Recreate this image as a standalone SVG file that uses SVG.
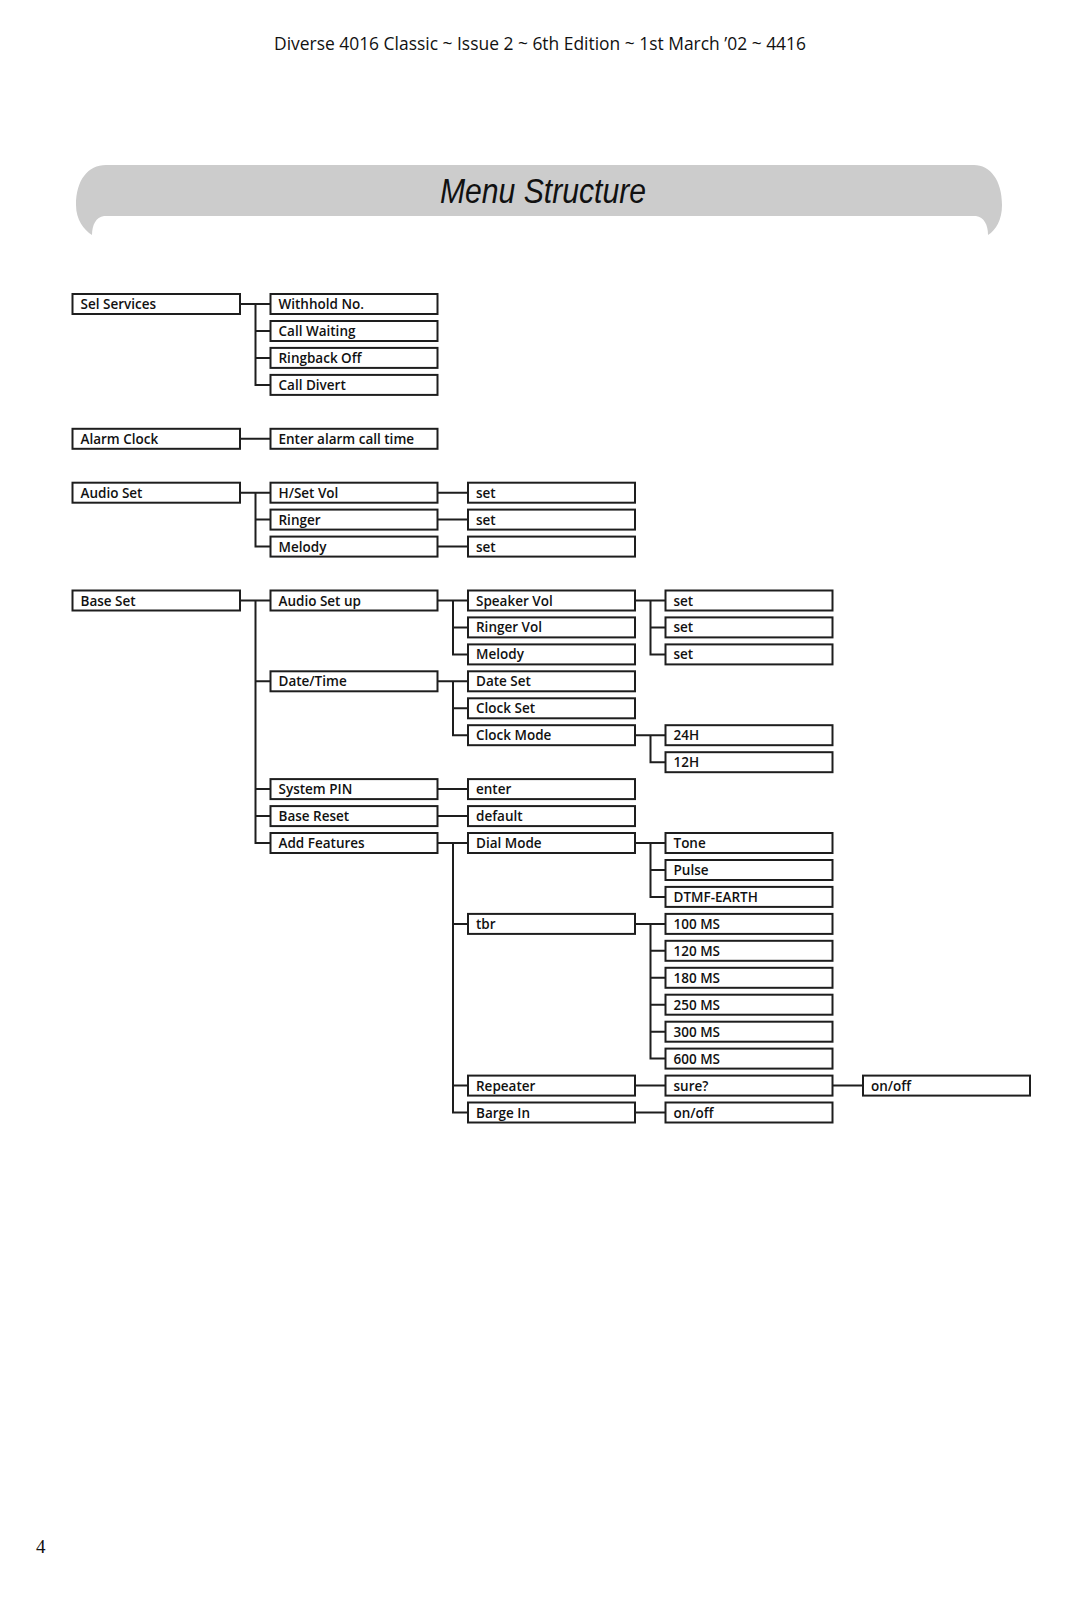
<svg xmlns="http://www.w3.org/2000/svg" width="1080" height="1605" viewBox="0 0 1080 1605">
<style>
.b{fill:#fff;stroke:#1e1e1e;stroke-width:2}
.t{font-family:"Open Sans","Noto Sans","Liberation Sans",sans-serif;font-weight:600;font-size:13.5px;fill:#111}
.c{fill:none;stroke:#1e1e1e;stroke-width:2;stroke-linecap:square}
</style>
<rect width="1080" height="1605" fill="#fff"/>
<text x="540" y="50" text-anchor="middle" textLength="532" lengthAdjust="spacingAndGlyphs" font-family="'Open Sans','Noto Sans',sans-serif" font-size="18" fill="#111">Diverse 4016 Classic ~ Issue 2 ~ 6th Edition ~ 1st March ’02 ~ 4416</text>
<g id="banner">
<path d="M106 165 L974 165 C990 165 1002 180 1002 205 C1002 220 996 230 988 235 C988 225 984 217 976 216 L104 216 C96 217 92 225 92 235 C84 230 76 220 76 205 C76 180 88 165 106 165 Z" fill="#cccccc"/>
<text x="543" y="203" text-anchor="middle" textLength="206" lengthAdjust="spacingAndGlyphs" font-family="'Liberation Sans Narrow','Liberation Sans',Arial,sans-serif" font-style="italic" font-size="35" fill="#111">Menu Structure</text>
</g>
<text x="36" y="1553" font-family="'Liberation Serif','Times New Roman',serif" font-size="19" fill="#111">4</text>

<g id="connectors">
<path class="c" d="M240 304 H270.5 M255.5 304 V384.9 H270.5 M255.5 331 H270.5 M255.5 357.9 H270.5"/>
<path class="c" d="M240 438.8 H270.5"/>
<path class="c" d="M240 492.7 H270.5 M255.5 492.7 V546.6 H270.5 M255.5 519.6 H270.5"/>
<path class="c" d="M437.5 492.7 H468 M437.5 519.6 H468 M437.5 546.6 H468"/>
<path class="c" d="M240 600.5 H270.5 M255.5 600.5 V843 H270.5 M255.5 681.3 H270.5 M255.5 789.1 H270.5 M255.5 816.1 H270.5"/>
<path class="c" d="M437.5 600.5 H468 M453 600.5 V654.4 H468 M453 627.4 H468"/>
<path class="c" d="M635 600.5 H665.5 M650.5 600.5 V654.4 H665.5 M650.5 627.4 H665.5"/>
<path class="c" d="M437.5 681.3 H468 M453 681.3 V735.2 H468 M453 708.3 H468"/>
<path class="c" d="M635 735.2 H665.5 M650.5 735.2 V762.2 H665.5"/>
<path class="c" d="M437.5 789.1 H468 M437.5 816.1 H468"/>
<path class="c" d="M437.5 843 H468 M453 843 V1112.5 H468 M453 923.9 H468 M453 1085.6 H468"/>
<path class="c" d="M635 843 H665.5 M650.5 843 V896.9 H665.5 M650.5 870 H665.5"/>
<path class="c" d="M635 923.9 H665.5 M650.5 923.9 V1058.6 H665.5 M650.5 950.8 H665.5 M650.5 977.8 H665.5 M650.5 1004.7 H665.5 M650.5 1031.7 H665.5"/>
<path class="c" d="M635 1085.6 H665.5 M832.5 1085.6 H863 M635 1112.5 H665.5"/>
</g>

<g id="sel-services"><rect class="b" x="72.5" y="294" width="167.5" height="20"/><text class="t" x="80.5" y="309">Sel Services</text></g>
<g id="alarm-clock"><rect class="b" x="72.5" y="428.8" width="167.5" height="20"/><text class="t" x="80.5" y="443.8">Alarm Clock</text></g>
<g id="audio-set"><rect class="b" x="72.5" y="482.7" width="167.5" height="20"/><text class="t" x="80.5" y="497.7">Audio Set</text></g>
<g id="base-set"><rect class="b" x="72.5" y="590.5" width="167.5" height="20"/><text class="t" x="80.5" y="605.5">Base Set</text></g>

<g id="withhold"><rect class="b" x="270.5" y="294" width="167" height="20"/><text class="t" x="278.5" y="309">Withhold No.</text></g>
<g id="call-waiting"><rect class="b" x="270.5" y="321" width="167" height="20"/><text class="t" x="278.5" y="336">Call Waiting</text></g>
<g id="ringback-off"><rect class="b" x="270.5" y="347.9" width="167" height="20"/><text class="t" x="278.5" y="362.9">Ringback Off</text></g>
<g id="call-divert"><rect class="b" x="270.5" y="374.9" width="167" height="20"/><text class="t" x="278.5" y="389.9">Call Divert</text></g>
<g id="enter-alarm"><rect class="b" x="270.5" y="428.8" width="167" height="20"/><text class="t" x="278.5" y="443.8">Enter alarm call time</text></g>
<g id="hset-vol"><rect class="b" x="270.5" y="482.7" width="167" height="20"/><text class="t" x="278.5" y="497.7">H/Set Vol</text></g>
<g id="ringer"><rect class="b" x="270.5" y="509.6" width="167" height="20"/><text class="t" x="278.5" y="524.6">Ringer</text></g>
<g id="melody1"><rect class="b" x="270.5" y="536.6" width="167" height="20"/><text class="t" x="278.5" y="551.6">Melody</text></g>
<g id="audio-set-up"><rect class="b" x="270.5" y="590.5" width="167" height="20"/><text class="t" x="278.5" y="605.5">Audio Set up</text></g>
<g id="date-time"><rect class="b" x="270.5" y="671.3" width="167" height="20"/><text class="t" x="278.5" y="686.3">Date/Time</text></g>
<g id="system-pin"><rect class="b" x="270.5" y="779.1" width="167" height="20"/><text class="t" x="278.5" y="794.1">System PIN</text></g>
<g id="base-reset"><rect class="b" x="270.5" y="806.1" width="167" height="20"/><text class="t" x="278.5" y="821.1">Base Reset</text></g>
<g id="add-features"><rect class="b" x="270.5" y="833" width="167" height="20"/><text class="t" x="278.5" y="848">Add Features</text></g>

<g id="set1"><rect class="b" x="468" y="482.7" width="167" height="20"/><text class="t" x="476" y="497.7">set</text></g>
<g id="set2"><rect class="b" x="468" y="509.6" width="167" height="20"/><text class="t" x="476" y="524.6">set</text></g>
<g id="set3"><rect class="b" x="468" y="536.6" width="167" height="20"/><text class="t" x="476" y="551.6">set</text></g>
<g id="speaker-vol"><rect class="b" x="468" y="590.5" width="167" height="20"/><text class="t" x="476" y="605.5">Speaker Vol</text></g>
<g id="ringer-vol"><rect class="b" x="468" y="617.4" width="167" height="20"/><text class="t" x="476" y="632.4">Ringer Vol</text></g>
<g id="melody2"><rect class="b" x="468" y="644.4" width="167" height="20"/><text class="t" x="476" y="659.4">Melody</text></g>
<g id="date-set"><rect class="b" x="468" y="671.3" width="167" height="20"/><text class="t" x="476" y="686.3">Date Set</text></g>
<g id="clock-set"><rect class="b" x="468" y="698.3" width="167" height="20"/><text class="t" x="476" y="713.3">Clock Set</text></g>
<g id="clock-mode"><rect class="b" x="468" y="725.2" width="167" height="20"/><text class="t" x="476" y="740.2">Clock Mode</text></g>
<g id="enter"><rect class="b" x="468" y="779.1" width="167" height="20"/><text class="t" x="476" y="794.1">enter</text></g>
<g id="default"><rect class="b" x="468" y="806.1" width="167" height="20"/><text class="t" x="476" y="821.1">default</text></g>
<g id="dial-mode"><rect class="b" x="468" y="833" width="167" height="20"/><text class="t" x="476" y="848">Dial Mode</text></g>
<g id="tbr"><rect class="b" x="468" y="913.9" width="167" height="20"/><text class="t" x="476" y="928.9">tbr</text></g>
<g id="repeater"><rect class="b" x="468" y="1075.6" width="167" height="20"/><text class="t" x="476" y="1090.6">Repeater</text></g>
<g id="barge-in"><rect class="b" x="468" y="1102.5" width="167" height="20"/><text class="t" x="476" y="1117.5">Barge In</text></g>

<g id="set4"><rect class="b" x="665.5" y="590.5" width="167" height="20"/><text class="t" x="673.5" y="605.5">set</text></g>
<g id="set5"><rect class="b" x="665.5" y="617.4" width="167" height="20"/><text class="t" x="673.5" y="632.4">set</text></g>
<g id="set6"><rect class="b" x="665.5" y="644.4" width="167" height="20"/><text class="t" x="673.5" y="659.4">set</text></g>
<g id="h24"><rect class="b" x="665.5" y="725.2" width="167" height="20"/><text class="t" x="673.5" y="740.2">24H</text></g>
<g id="h12"><rect class="b" x="665.5" y="752.2" width="167" height="20"/><text class="t" x="673.5" y="767.2">12H</text></g>
<g id="tone"><rect class="b" x="665.5" y="833" width="167" height="20"/><text class="t" x="673.5" y="848">Tone</text></g>
<g id="pulse"><rect class="b" x="665.5" y="860" width="167" height="20"/><text class="t" x="673.5" y="875">Pulse</text></g>
<g id="dtmf"><rect class="b" x="665.5" y="886.9" width="167" height="20"/><text class="t" x="673.5" y="901.9">DTMF-EARTH</text></g>
<g id="ms100"><rect class="b" x="665.5" y="913.9" width="167" height="20"/><text class="t" x="673.5" y="928.9">100 MS</text></g>
<g id="ms120"><rect class="b" x="665.5" y="940.8" width="167" height="20"/><text class="t" x="673.5" y="955.8">120 MS</text></g>
<g id="ms180"><rect class="b" x="665.5" y="967.8" width="167" height="20"/><text class="t" x="673.5" y="982.8">180 MS</text></g>
<g id="ms250"><rect class="b" x="665.5" y="994.7" width="167" height="20"/><text class="t" x="673.5" y="1009.7">250 MS</text></g>
<g id="ms300"><rect class="b" x="665.5" y="1021.7" width="167" height="20"/><text class="t" x="673.5" y="1036.7">300 MS</text></g>
<g id="ms600"><rect class="b" x="665.5" y="1048.6" width="167" height="20"/><text class="t" x="673.5" y="1063.6">600 MS</text></g>
<g id="sure"><rect class="b" x="665.5" y="1075.6" width="167" height="20"/><text class="t" x="673.5" y="1090.6">sure?</text></g>
<g id="onoff1"><rect class="b" x="665.5" y="1102.5" width="167" height="20"/><text class="t" x="673.5" y="1117.5">on/off</text></g>
<g id="onoff2"><rect class="b" x="863" y="1075.6" width="167" height="20"/><text class="t" x="871" y="1090.6">on/off</text></g>
</svg>
